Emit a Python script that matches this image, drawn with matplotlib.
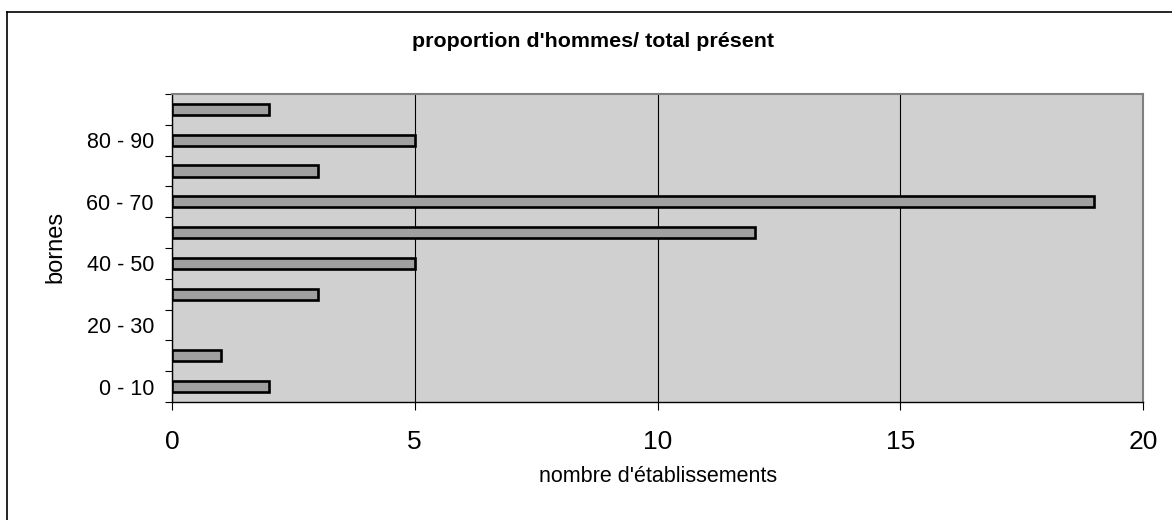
import numpy as np
import matplotlib
matplotlib.use('Agg')
import matplotlib.pyplot as plt
from matplotlib.lines import Line2D

plt.rcParams['font.family'] = ['Liberation Sans', 'DejaVu Sans']

# classes of the ratio, bottom to top
bornes = ['0 - 10', '10 - 20', '20 - 30', '30 - 40', '40 - 50',
          '50 - 60', '60 - 70', '70 - 80', '80 - 90', '90 - 100']
nb_etab = [2, 1, 0, 3, 5, 12, 19, 3, 5, 2]
x_ticks = [0, 5, 10, 15, 20]

fig = plt.figure(figsize=(11.72, 5.2), dpi=100)
ax = fig.add_axes([172 / 1172, 1 - 402 / 520, (1143 - 172) / 1172, (402 - 94) / 520])
ax.set_facecolor('#d0d0d0')

pos = np.arange(len(bornes))
# no outline on empty classes (excel draws nothing there)
lw = [1.9 if v > 0 else 0 for v in nb_etab]
ax.barh(pos, nb_etab, height=0.37, color='#a0a0a0', edgecolor='black', linewidth=lw, zorder=3)

ax.set_xlim(0, 20)
ax.set_ylim(-0.5, len(bornes) - 0.5)

# vertical grid
ax.set_xticks(x_ticks)
ax.set_xticklabels([str(v) for v in x_ticks], fontsize=19)
ax.xaxis.grid(True, color='black', linewidth=0.8, zorder=1)
ax.tick_params(axis='x', direction='out', length=6, width=0.8, pad=14)

# ticks on class boundaries, labels every other class
ax.set_yticks(np.arange(-0.5, len(bornes), 1.0))
ax.set_yticklabels([])
ax.tick_params(axis='y', which='major', direction='out', length=5, width=0.8)
ax.set_yticks(pos[::2], minor=True)
ax.set_yticklabels(bornes[::2], minor=True, fontsize=15.5)
ax.tick_params(axis='y', which='minor', length=0, pad=13)

for s in ['top', 'right']:
    ax.spines[s].set_color('#808080')
    ax.spines[s].set_linewidth(1.5)
for s in ['bottom', 'left']:
    ax.spines[s].set_color('black')
    ax.spines[s].set_linewidth(1.0)

fig.text(593 / 1172, 1 - 47 / 520, "proportion d'hommes/ total présent",
         ha='center', va='baseline', fontsize=15.4, fontweight='bold')
fig.text(658 / 1172, 1 - 482 / 520, "nombre d'établissements",
         ha='center', va='baseline', fontsize=15.5)
fig.text(55 / 1172, 1 - 247 / 520, 'bornes', rotation=90,
         ha='center', va='center', fontsize=17)

# chart frame (only left and top edges visible)
fig.add_artist(Line2D([7 / 1172, 7 / 1172], [0, 1 - 12 / 520], transform=fig.transFigure,
                      color='black', linewidth=1.2))
fig.add_artist(Line2D([7 / 1172, 1], [1 - 12 / 520, 1 - 12 / 520], transform=fig.transFigure,
                      color='black', linewidth=1.2))

fig.savefig('out.png', dpi=100)
